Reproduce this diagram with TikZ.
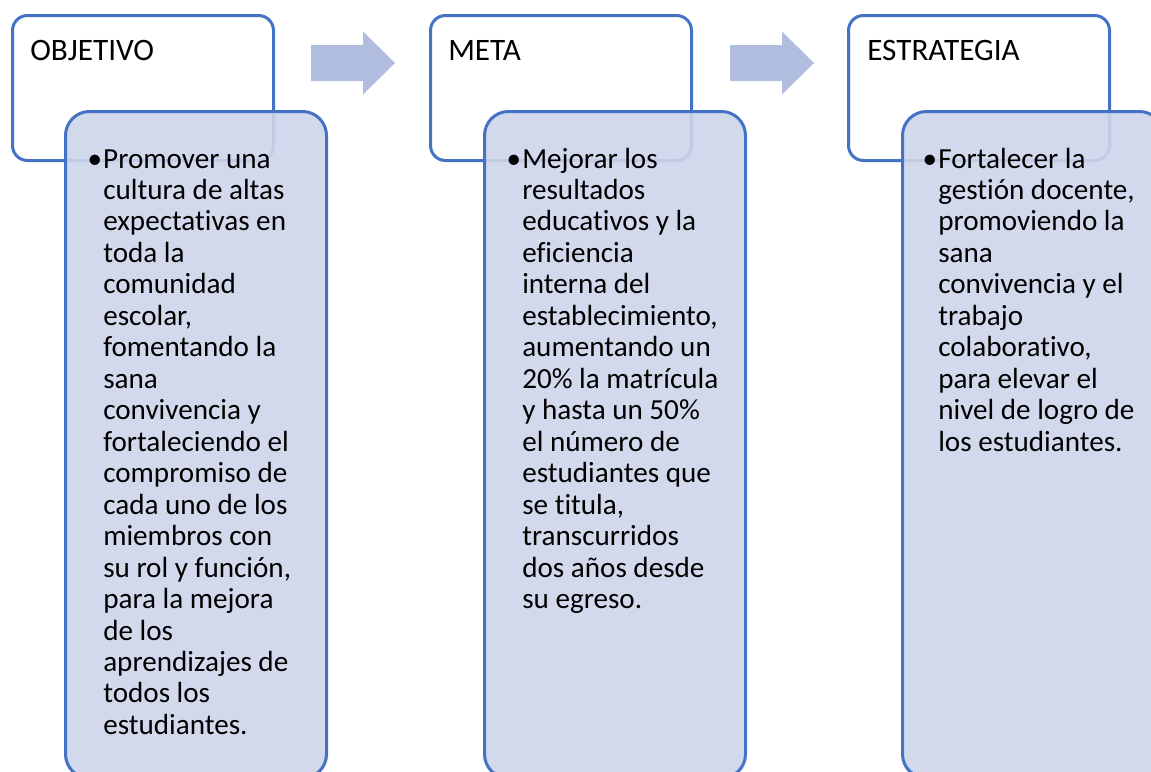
\documentclass[tikz,border=0pt]{standalone}
\usepackage{fontspec}
\setmainfont[Ligatures=NoCommon]{Carlito}
\definecolor{bordeazul}{RGB}{68,114,196}
\definecolor{rellenoazul}{RGB}{206,213,234}
\definecolor{flechaazul}{RGB}{177,189,223}
\newcommand{\titulo}{\fontsize{23.4pt}{27pt}\selectfont}
\newcommand{\cuerpo}{\fontsize{21.85pt}{23.6pt}\selectfont}
\newcommand{\vin}{\leavevmode\llap{\textbullet\hspace{0.8pt}}}
\tikzset{
  cajasup/.style={draw=bordeazul, line width=2.25pt, fill=white, rounded corners=11.25pt,
    rectangle, anchor=north west, minimum width=195.75pt, minimum height=108.75pt, inner sep=0pt},
  cajainf/.style={draw=bordeazul, line width=2.25pt, fill=rellenoazul, fill opacity=0.9,
    rounded corners=18pt, rectangle, anchor=north west, minimum width=195.75pt,
    minimum height=500pt, inner sep=0pt},
  flecha/.style={fill=flechaazul},
  titulotxt/.style={anchor=base west, inner sep=0pt, font=\titulo},
  vineta/.style={anchor=base west, inner sep=0pt, text opacity=1}
}
\begin{document}
\begin{tikzpicture}[x=0.75pt,y=-0.75pt]
   \useasboundingbox (0,0) rectangle (1151,771);
   \clip (0,0) rectangle (1151,771);

   \node[cajasup] (objsup) at (11,14) {};
   \node[cajasup] (metasup) at (429,14) {};
   \node[cajasup] (estsup) at (847,14) {};

   \node[titulotxt] (objtit) at (30,60) {OBJETIVO};
   \node[titulotxt] (metatit) at (448,60) {META};
   \node[titulotxt] (esttit) at (867,60) {ESTRATEGIA};

   % flechas
   \fill[flecha] (311,45) -- (363,45) -- (363,31.5) -- (395,63) -- (363,94.5) -- (363,81) -- (311,81) -- cycle;
   \fill[flecha] (730,45) -- (782,45) -- (782,31.5) -- (814,63) -- (782,94.5) -- (782,81) -- (730,81) -- cycle;

   \node[cajainf] (objinf) at (64,110) {};
   \node[cajainf] (metainf) at (483,110) {};
   \node[cajainf] (estinf) at (901,110) {};

   \node[vineta] (objtxt) at (103,168) {\parbox[t]{200pt}{\cuerpo\raggedright
     \vin Promover una\\ cultura de altas\\ expectativas en\\ toda la\\
     comunidad\\ escolar,\\ fomentando la\\ sana\\ convivencia y\\ fortaleciendo el\\
     compromiso de\\ cada uno de los\\ miembros con\\ su rol y función,\\ para la mejora\\
     de los\\ aprendizajes de\\ todos los\\ estudiantes.}};
   \node[vineta] (metatxt) at (522,168) {\parbox[t]{200pt}{\cuerpo\raggedright
     \vin Mejorar los\\ resultados\\ educativos y la\\ eficiencia\\
     interna del\\ establecimiento,\\ aumentando un\\ 20\% la matrícula\\ y hasta un 50\%\\
     el número de\\ estudiantes que\\ se titula,\\ transcurridos\\ dos años desde\\ su egreso.}};
   \node[vineta] (esttxt) at (938,168) {\parbox[t]{200pt}{\cuerpo\raggedright
     \vin Fortalecer la\\ gestión docente,\\ promoviendo la\\ sana\\
     convivencia y el\\ trabajo\\ colaborativo,\\ para elevar el\\ nivel de logro de\\
     los estudiantes.}};

 \end{tikzpicture}
\end{document}
